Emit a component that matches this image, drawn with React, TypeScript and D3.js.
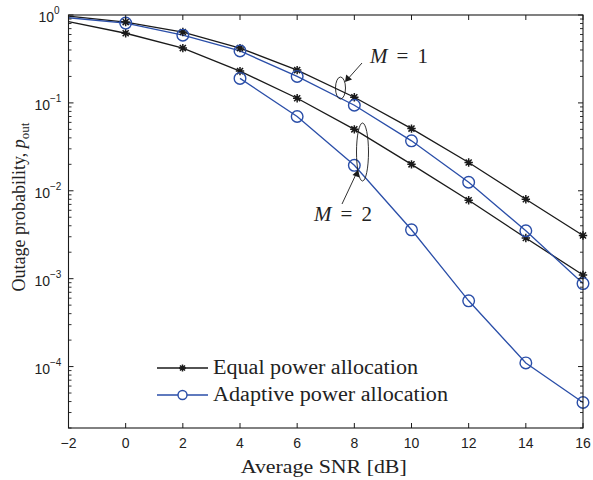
import React from "react";
import * as d3 from "d3";

const snrLine = [-2, 0, 2, 4, 6, 8, 10, 12, 14, 16];
const equalM1 = [0.97, 0.83, 0.64, 0.42, 0.236, 0.116, 0.051, 0.021, 0.008, 0.0031];
const equalM2 = [0.84, 0.62, 0.42, 0.23, 0.113, 0.05, 0.02, 0.0078, 0.0029, 0.0011];
const adaptM1 = [0.93, 0.81, 0.59, 0.39, 0.2, 0.094, 0.037, 0.0125, 0.0035, 0.00088];
const snrAdaptM2 = [4, 6, 8, 10, 12, 14, 16];
const adaptM2 = [0.19, 0.07, 0.0195, 0.0036, 0.00056, 0.00011, 0.000039];
const xTicks = [-2, 0, 2, 4, 6, 8, 10, 12, 14, 16];
const yDecades = [0, -1, -2, -3, -4];

const W = 593, H = 480;
const L = 68.5, R = 583, T = 15, B = 428;
const BLACK = "#1a1a1a";
const BLUE = "#2a4ea8";
const SERIF = "'Liberation Serif', 'Times New Roman', serif";
const SANS = "'Liberation Sans', Arial, sans-serif";

function Star({ cx, cy, s = 4.2, color = BLACK }: { cx: number; cy: number; s?: number; color?: string }) {
  const d = s * 0.72;
  return (
    <path
      d={`M${cx - s},${cy}L${cx + s},${cy}M${cx},${cy - s}L${cx},${cy + s}M${cx - d},${cy - d}L${cx + d},${cy + d}M${cx - d},${cy + d}L${cx + d},${cy - d}`}
      stroke={color}
      strokeWidth={1.5}
      fill="none"
    />
  );
}

export default function App() {
  const x = d3.scaleLinear().domain([-2, 16]).range([L, R]);
  const y = d3.scaleLog().domain([2e-5, 1]).range([B, T]);
  const line = d3
    .line<[number, number]>()
    .x((d) => x(d[0]))
    .y((d) => y(d[1]));

  const pairs = (xs: number[], ys: number[]) => xs.map((v, i) => [v, ys[i]] as [number, number]);
  const eq1 = pairs(snrLine, equalM1);
  const eq2 = pairs(snrLine, equalM2);
  const ad1 = pairs(snrLine, adaptM1);
  const ad2 = pairs(snrAdaptM2, adaptM2);

  const minor: number[] = [];
  for (let dcd = -5; dcd < 0; dcd++) {
    for (let k = 2; k <= 9; k++) {
      const v = k * Math.pow(10, dcd);
      if (v >= 2e-5 && v <= 1) minor.push(v);
    }
  }

  return (
    <svg width={W} height={H} style={{ position: "absolute", left: 0, top: 0, background: "#fff" }}>
      <rect x={0} y={0} width={W} height={H} fill="#fff" />
      {/* series lines */}
      <path d={line(eq1) || ""} stroke={BLACK} strokeWidth={1.3} fill="none" />
      <path d={line(eq2) || ""} stroke={BLACK} strokeWidth={1.3} fill="none" />
      <path d={line(ad1) || ""} stroke={BLUE} strokeWidth={1.3} fill="none" />
      <path d={line(ad2) || ""} stroke={BLUE} strokeWidth={1.3} fill="none" />
      {/* markers */}
      {eq1.filter((d) => d[0] >= 0).map((d, i) => (
        <Star key={"e1" + i} cx={x(d[0])} cy={y(d[1])} />
      ))}
      {eq2.filter((d) => d[0] >= 0).map((d, i) => (
        <Star key={"e2" + i} cx={x(d[0])} cy={y(d[1])} />
      ))}
      {ad1.filter((d) => d[0] >= 0).map((d, i) => (
        <circle key={"a1" + i} cx={x(d[0])} cy={y(d[1])} r={5.8} stroke={BLUE} strokeWidth={1.4} fill="none" />
      ))}
      {ad2.map((d, i) => (
        <circle key={"a2" + i} cx={x(d[0])} cy={y(d[1])} r={5.8} stroke={BLUE} strokeWidth={1.4} fill="none" />
      ))}

      {/* axes box */}
      <rect x={L} y={T} width={R - L} height={B - T} fill="none" stroke={BLACK} strokeWidth={1.1} />
      {xTicks.map((t) => (
        <g key={"xt" + t}>
          <line x1={x(t)} x2={x(t)} y1={B} y2={B - 5} stroke={BLACK} strokeWidth={1} />
          <line x1={x(t)} x2={x(t)} y1={T} y2={T + 5} stroke={BLACK} strokeWidth={1} />
          <text x={x(t)} y={448} fontFamily={SANS} fontSize={14} textAnchor="middle" fill="#222">
            {t < 0 ? "\u2212" + Math.abs(t) : t}
          </text>
        </g>
      ))}
      {yDecades.map((e) => (
        <g key={"yt" + e}>
          <line x1={L} x2={L + 5} y1={y(Math.pow(10, e))} y2={y(Math.pow(10, e))} stroke={BLACK} strokeWidth={1} />
          <line x1={R} x2={R - 5} y1={y(Math.pow(10, e))} y2={y(Math.pow(10, e))} stroke={BLACK} strokeWidth={1} />
          <text x={e < 0 ? 50 : 54} y={y(Math.pow(10, e)) + 7} fontFamily={SANS} fontSize={14} textAnchor="end" fill="#222">
            10
          </text>
          <text x={e < 0 ? 50 : 54} y={y(Math.pow(10, e)) - 1} fontFamily={SANS} fontSize={10} textAnchor="start" fill="#222">
            {e < 0 ? "\u2212" + Math.abs(e) : e}
          </text>
        </g>
      ))}
      {minor.map((v, i) => (
        <g key={"mn" + i}>
          <line x1={L} x2={L + 3} y1={y(v)} y2={y(v)} stroke={BLACK} strokeWidth={0.9} />
          <line x1={R} x2={R - 3} y1={y(v)} y2={y(v)} stroke={BLACK} strokeWidth={0.9} />
        </g>
      ))}

      {/* axis titles */}
      <text
        x={(L + R) / 2 - 2}
        y={473}
        fontFamily={SERIF}
        fontSize={19}
        textAnchor="middle"
        fill="#222"
        textLength={166}
        lengthAdjust="spacingAndGlyphs"
      >
        Average SNR [dB]
      </text>
      <text
        transform={`translate(25,207) rotate(-90)`}
        fontFamily={SERIF}
        fontSize={18}
        textAnchor="middle"
        fill="#222"
      >
        Outage probability, <tspan fontStyle="italic">p</tspan>
        <tspan fontSize={13} dy={4}>out</tspan>
      </text>

      {/* annotations */}
      <ellipse cx={340.5} cy={88} rx={5} ry={11} fill="none" stroke={BLACK} strokeWidth={0.9} />
      <line x1={362} y1={63} x2={346} y2={81} stroke={BLACK} strokeWidth={0.9} />
      <path d="M345,82 L346.2,74.5 L352,79.5 Z" fill={BLACK} />
      <text x={370} y={63} fontFamily={SERIF} fontSize={21} fill="#222" textLength={58} lengthAdjust="spacing">
        <tspan fontStyle="italic">M</tspan> = 1
      </text>
      <ellipse cx={362.5} cy={152} rx={6} ry={29} fill="none" stroke={BLACK} strokeWidth={0.9} />
      <line x1={342} y1={204} x2={357.5} y2={171} stroke={BLACK} strokeWidth={0.9} />
      <path d="M358,170 L359.5,177.5 L352.5,175 Z" fill={BLACK} />
      <text x={314} y={221} fontFamily={SERIF} fontSize={21} fill="#222" textLength={58} lengthAdjust="spacing">
        <tspan fontStyle="italic">M</tspan> = 2
      </text>

      {/* legend */}
      <line x1={157} x2={208} y1={368} y2={368} stroke={BLACK} strokeWidth={1.3} />
      <Star cx={182.5} cy={368} s={3.5} />
      <text
        x={213}
        y={374}
        fontFamily={SERIF}
        fontSize={20}
        fill="#222"
        textLength={205}
        lengthAdjust="spacingAndGlyphs"
      >
        Equal power allocation
      </text>
      <line x1={157} x2={208} y1={395} y2={395} stroke={BLUE} strokeWidth={1.3} />
      <circle cx={182.5} cy={395} r={4.5} stroke={BLUE} strokeWidth={1.4} fill="#fff" />
      <text
        x={213}
        y={401}
        fontFamily={SERIF}
        fontSize={20}
        fill="#222"
        textLength={235}
        lengthAdjust="spacingAndGlyphs"
      >
        Adaptive power allocation
      </text>
    </svg>
  );
}
